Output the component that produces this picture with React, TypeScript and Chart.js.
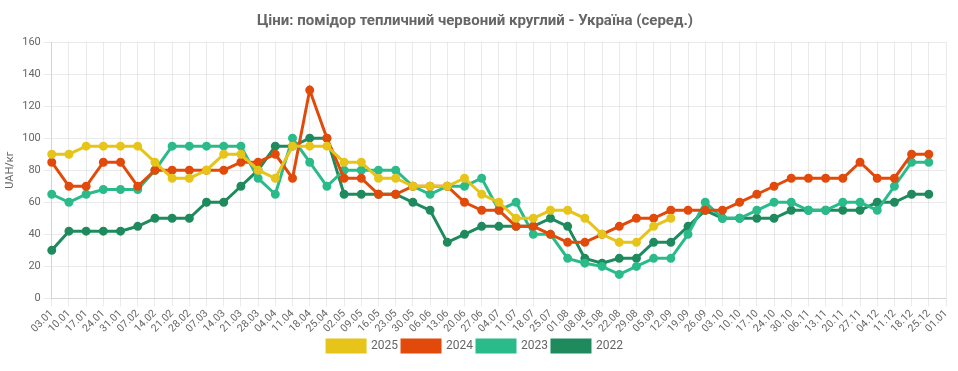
import React, { useEffect, useRef } from "react";
import { Chart, registerables } from "chart.js";

Chart.register(...registerables);

const labels = ["03.01","10.01","17.01","24.01","31.01","07.02","14.02","21.02","28.02","07.03","14.03","21.03","28.03","04.04","11.04","18.04","25.04","02.05","09.05","16.05","23.05","30.05","06.06","13.06","20.06","27.06","04.07","11.07","18.07","25.07","01.08","08.08","15.08","22.08","29.08","05.09","12.09","19.09","26.09","03.10","10.10","17.10","24.10","30.10","06.11","13.11","20.11","27.11","04.12","11.12","18.12","25.12","01.01"];

const y2025 = [90,90,95,95,95,95,85,75,75,80,90,90,80,75,95,95,95,85,85,75,75,70,70,70,75,65,60,50,50,55,55,50,40,35,35,45,50];
const y2024 = [85,70,70,85,85,70,80,80,80,80,80,85,85,90,75,130,100,75,75,65,65,70,70,70,60,55,55,45,45,40,35,35,40,45,50,50,55,55,55,55,60,65,70,75,75,75,75,85,75,75,90,90];
const y2023 = [65,60,65,68,68,68,80,95,95,95,95,95,75,65,100,85,70,80,80,80,80,70,65,70,70,75,55,60,40,40,25,22,20,15,20,25,25,40,60,50,50,55,60,60,55,55,60,60,55,70,85,85];
const y2022 = [30,42,42,42,42,45,50,50,50,60,60,70,80,95,95,100,100,65,65,65,65,60,55,35,40,45,45,45,45,50,45,25,22,25,25,35,35,45,55,50,50,50,50,55,55,55,55,55,60,60,65,65];

const seriesNames = ["2025", "2024", "2023", "2022"];
const seriesColors = ["#E6C41A", "#E24A0B", "#2BBB8A", "#1E8A5D"];
const titleText = "Ціни: помідор тепличний червоний круглий - Україна (серед.)";
const yTitle = "UAH/кг";

export default function App() {
  const ref = useRef<HTMLCanvasElement | null>(null);
  useEffect(() => {
    document.body.style.margin = "0";
    if (!ref.current) return;
    const data = [y2025, y2024, y2023, y2022];
    const chart = new Chart(ref.current, {
      type: "line",
      data: {
        labels,
        datasets: seriesNames.map((n, i) => ({
          label: n,
          data: data[i],
          borderColor: seriesColors[i],
          backgroundColor: seriesColors[i],
          pointBackgroundColor: seriesColors[i],
          pointBorderColor: seriesColors[i],
          borderWidth: 3,
          pointRadius: 3,
          tension: 0,
          fill: false,
        })),
      },
      options: {
        responsive: false,
        animation: false,
        layout: { padding: { left: 4, right: 12, top: 4, bottom: 9 } },
        plugins: {
          title: {
            display: true,
            text: titleText,
            color: "#666",
            font: { family: "Roboto", size: 15, weight: "bold" },
            padding: { top: 8, bottom: 12 },
          },
          legend: {
            position: "bottom",
            labels: {
              color: "#666",
              boxWidth: 38,
              boxHeight: 12,
              font: { family: "Roboto", size: 12 },
              padding: 4,
            },
          },
          tooltip: { enabled: false },
        },
        scales: {
          x: {
            grid: { color: "rgba(0,0,0,0.08)" },
            ticks: {
              color: "#666",
              font: { family: "Roboto", size: 10.5 },
              maxRotation: 45,
              minRotation: 45,
              autoSkip: false,
              padding: 1,
            },
          },
          y: {
            min: 0,
            max: 160,
            grid: { color: "rgba(0,0,0,0.08)" },
            ticks: {
              stepSize: 20,
              color: "#666",
              font: { family: "Roboto", size: 11 },
            },
            title: {
              display: true,
              text: yTitle,
              color: "#666",
              font: { family: "Roboto", size: 11 },
              padding: { top: 0, bottom: 2 },
            },
          },
        },
      },
    });
    return () => chart.destroy();
  }, []);
  return (
    <div style={{ width: 958, height: 371 }}>
      <canvas ref={ref} width={958} height={371} style={{ display: "block" }} />
    </div>
  );
}
